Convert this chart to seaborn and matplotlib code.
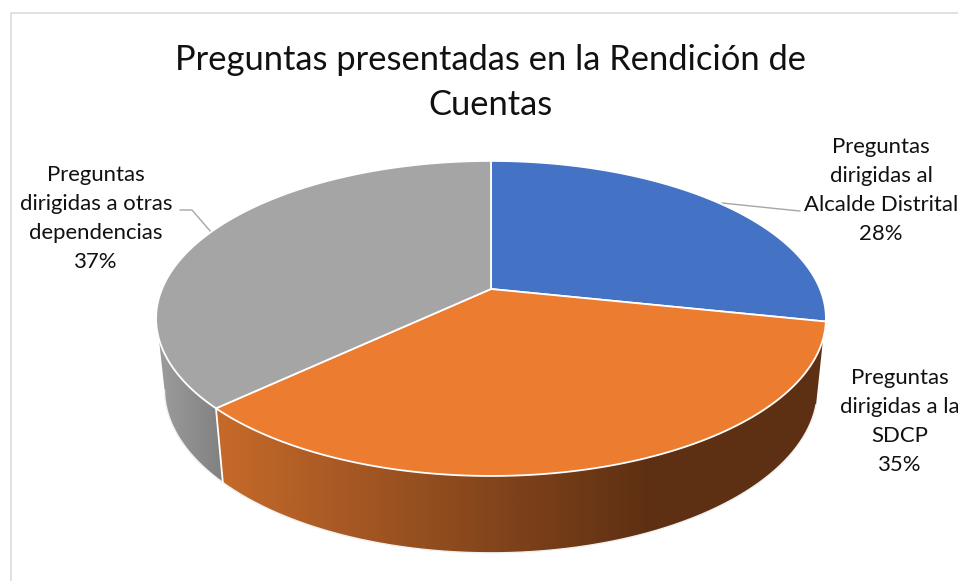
import numpy as np
import seaborn as sns
import matplotlib
matplotlib.use("Agg")
import matplotlib.pyplot as plt
from matplotlib.colors import ListedColormap
from matplotlib.patches import Polygon

# ---- data ----
title_lines = ["Preguntas presentadas en la Rendición de", "Cuentas"]
categories = ["Preguntas dirigidas al Alcalde Distrital",
              "Preguntas dirigidas a la SDCP",
              "Preguntas dirigidas a otras dependencias"]
values = [28.3, 34.7, 37.0]
slice_colors = ["#4472C4", "#EC7C30", "#A5A5A5"]
label_lines = [["Preguntas", "dirigidas al", "Alcalde Distrital", "28%"],
               ["Preguntas", "dirigidas a la", "SDCP", "35%"],
               ["Preguntas", "dirigidas a otras", "dependencias", "37%"]]

# ---- layout ----
label_x = [881, 900, 96]
label_y = [147, 378, 175]
label_step = 28.9
CX, CY = 491, 289          # projected pie centre, px
B, A, K = 329, 152, 0.187  # perspective disc projection
DEPTH, FX, FY = 69.4, 0.975, 1.04  # lower rim relative to the top rim

sns.set_theme(style="white")
plt.rcParams["font.family"] = ["Lato", "DejaVu Sans"]
fig = plt.figure(figsize=(9.58, 5.81), dpi=100, facecolor="white")
ax = fig.add_axes([0, 0, 1, 1])
ax.axis("off")


def top_rim(theta):
    u, v = np.sin(theta), np.cos(theta)
    w = 1 + K * v
    return CX + B * u / w, CY - A * v / w


def bottom_rim(theta):
    x, y = top_rim(theta)
    return CX + (x - CX) * FX, CY + (y - CY) * FY + DEPTH


def wall(top_range, bottom_range, colors, xmin, xmax):
    xt, yt = top_rim(np.linspace(*top_range, 300))
    xb, yb = bottom_rim(np.linspace(*bottom_range, 300))
    outline = np.column_stack([np.r_[xt, xb[::-1]], np.r_[yt, yb[::-1]]])
    patch = Polygon(outline, closed=True, transform=ax.transData,
                    facecolor="none", edgecolor="none")
    ax.add_patch(patch)
    xs = np.arange(0, 958)
    grad = np.clip((xs - xmin) / (xmax - xmin), 0, 1)[None, :]
    im = ax.imshow(grad, extent=[0, 958, 581, 0], aspect="auto",
                   cmap=ListedColormap(colors), vmin=0, vmax=1, zorder=2,
                   interpolation="bilinear")
    im.set_clip_path(patch)
    ax.plot(xb, yb, color="#F0F0F0", lw=1.0, zorder=2.5)


# frame
ax.plot([11, 11, 970], [600, 13, 13], color="#D9D9D9", lw=1.1, zorder=0,
        solid_joinstyle="miter")

# slice angles from values
edges = 2 * np.pi * np.cumsum([0] + values) / np.sum(values)

# side walls
orange_wall = sns.blend_palette(["#C4692A", "#5E3013"], 128)
gray_wall = sns.blend_palette(["#9A9A9A", "#818181"], 64)
wall((np.radians(108), edges[2]), (np.radians(106), edges[2]),
     orange_wall, 223, 650)
wall((edges[2], np.radians(252)), (edges[2], np.radians(259)),
     gray_wall, 163, 222)
ex, ey = top_rim(edges[2])
bx, by = bottom_rim(edges[2])
ax.plot([ex, bx], [ey, by], color="white", lw=1.3, zorder=3)

# top faces
for i, col in enumerate(slice_colors):
    th = np.linspace(edges[i], edges[i + 1], 240)
    x, y = top_rim(th)
    ax.fill(np.r_[CX, x], np.r_[CY, y], facecolor=col, edgecolor="white",
            lw=1.3, zorder=4, joinstyle="round")

# leader lines
ax.plot([722, 780, 800], [203, 209, 211], color="#A6A6A6", lw=1.0, zorder=3)
ax.plot([180, 192, 211], [210, 210, 232], color="#A6A6A6", lw=1.0, zorder=3)

# title & labels
for i, line in enumerate(title_lines):
    ax.text(491, 60 + i * 45, line, ha="center", va="center",
            fontsize=24.8, color="#111111", zorder=6)
for lines, lx, ly in zip(label_lines, label_x, label_y):
    for j, line in enumerate(lines):
        ax.text(lx, ly + j * label_step, line, ha="center", va="center",
                fontsize=15.9, color="#111111", zorder=6)

ax.set_xlim(0, 958)
ax.set_ylim(581, 0)
fig.savefig("out.png", dpi=100, facecolor="white")
